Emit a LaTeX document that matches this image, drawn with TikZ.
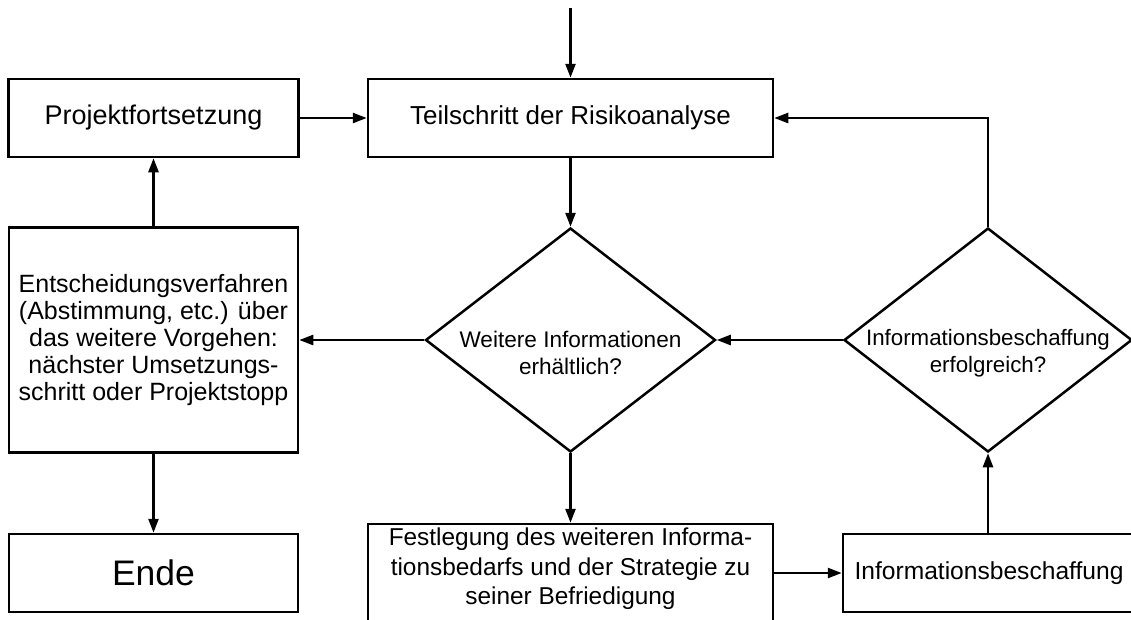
\documentclass[tikz,border=0pt]{standalone}
\usepackage{fontspec}
\setmainfont{Liberation Sans}
\usetikzlibrary{shapes.geometric,arrows.meta}
\tikzset{
  box/.style={draw=black, line width=2.5pt, fill=white, inner sep=0pt, align=center},
  dia/.style={draw=black, line width=2.5pt, diamond, inner sep=0pt, minimum width=290pt, minimum height=224pt},
  txt/.style={inner sep=0pt, align=center, text=black},
  conn/.style={line width=2.5pt, -{Triangle[length=14pt,width=10pt]}},
}
\begin{document}
\begin{tikzpicture}[x=1pt,y=-1pt]
\clip (0,0) rectangle (1131,619);
\fill[white] (0,0) rectangle (1131,619);
% boxes
\node[box, minimum width=290pt, minimum height=78pt, font=\fontsize{27}{31}\selectfont] (proj) at (153.5,118) {Projektfortsetzung};
\node[box, minimum width=405pt, minimum height=78pt, font=\fontsize{26}{30}\selectfont] (teil) at (570.5,118) {Teilschritt der Risikoanalyse};
\node[box, minimum width=289pt, minimum height=225pt, font=\fontsize{25}{27}\selectfont] (ents) at (153.5,340) {Entscheidungsverfahren\\(Abstimmung, etc.) über\\das weitere Vorgehen:\\nächster Umsetzungs-\\schritt oder Projektstopp};
\node[box, minimum width=289pt, minimum height=78pt, font=\fontsize{35.5}{40}\selectfont] (ende) at (153.5,573) {Ende};
\node[box, minimum width=405pt, minimum height=110pt] (fest) at (570.5,579) {};
\node[txt, font=\fontsize{24.4}{29.5}\selectfont] (festtxt) at (570.5,569) {Festlegung des weiteren Informa-\\tionsbedarfs und der Strategie zu\\seiner Befriedigung};
\node[box, minimum width=292pt, minimum height=78pt, font=\fontsize{24.6}{29}\selectfont] (info) at (989,573) {Informationsbeschaffung};
% diamonds
\node[dia] (d1) at (570.5,340) {};
\node[txt, font=\fontsize{22.6}{27}\selectfont] (d1txt) at (570.5,353) {Weitere Informationen\\erhältlich?};
\node[dia, minimum width=288pt] (d2) at (988,340) {};
\node[txt, font=\fontsize{22.3}{27}\selectfont] (d2txt) at (988,353) {Informationsbeschaffung\\erfolgreich?};
% connectors
\coordinate (start) at (570.5,8);
\draw[conn] (start) -- (teil.north);
\draw[conn] (proj.east) -- (teil.west);
\draw[conn] (teil.south) -- (d1.north);
\draw[conn] (d1.west) -- (ents.east);
\draw[conn] (d2.west) -- (d1.east);
\draw[conn] (d2.north) |- (teil.east);
\draw[conn] (ents.north) -- (proj.south);
\draw[conn] (ents.south) -- (ende.north);
\draw[conn] (d1.south) -- (fest.north);
\draw[conn] (fest.east |- info.west) -- (info.west);
\draw[conn] (d2.south |- info.north) -- (d2.south);
\end{tikzpicture}
\end{document}
